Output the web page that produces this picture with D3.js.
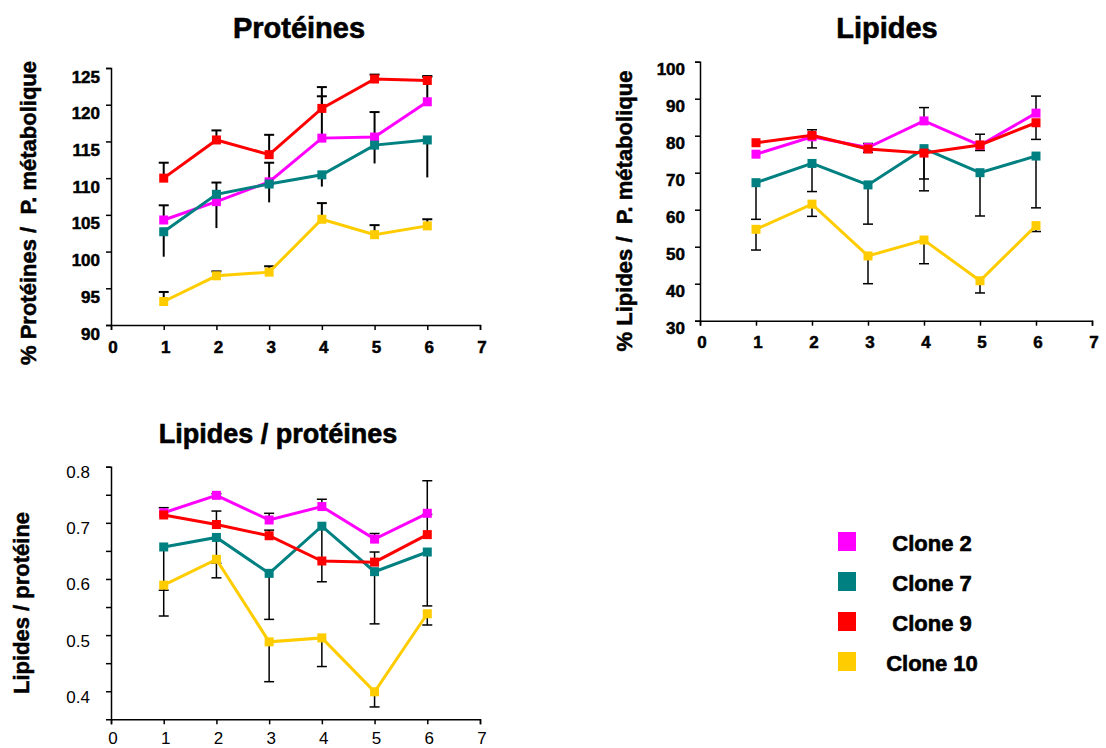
<!DOCTYPE html>
<html>
<head>
<meta charset="utf-8">
<script src="https://d3js.org/d3.v7.min.js"></script>
<style>
  body { margin: 0; background: #fff; }
  svg { font-family: "Liberation Sans", Arial, sans-serif; }
</style>
</head>
<body>
<div id="chart"></div>
<script>
// data (x = 1..6, one row per clone)
const days = [1, 2, 3, 4, 5, 6];
const xTicks = [0, 1, 2, 3, 4, 5, 6, 7];
const clones = ["Clone 2", "Clone 7", "Clone 9", "Clone 10"];
const cloneColors = ["#ff00ff", "#008080", "#ff0000", "#ffcc00"];

// signed error: positive = bar drawn upward, negative = downward
const protMean = [
  [104.3, 106.8, 109.5, 115.45, 115.6, 120.4],
  [102.7, 107.8, 109.2, 110.45, 114.5, 115.2],
  [110.0, 115.2, 113.2, 119.5, 123.5, 123.3],
  [93.2, 96.7, 97.2, 104.4, 102.3, 103.5]
];
const protErr = [
  [2.0, 2.6, 2.6, 5.7, 3.4, 3.4],
  [-3.4, -4.6, -2.5, -1.6, -2.5, -5.1],
  [2.1, 1.3, 2.7, 2.9, 0.6, 0.6],
  [1.3, 0.6, 0.8, 2.2, 1.3, 0.9]
];
const protTicks = [90, 95, 100, 105, 110, 115, 120, 125];

const lipMean = [
  [75.0, 79.7, 76.8, 84.0, 77.4, 86.1],
  [67.3, 72.5, 66.7, 76.5, 70.0, 74.5],
  [78.1, 80.1, 76.4, 75.3, 77.5, 83.5],
  [54.7, 61.5, 47.5, 51.8, 40.8, 55.7]
];
const lipErr = [
  [0, 1.9, 1.1, 3.6, 3.0, 4.6],
  [-9.9, -7.6, -10.6, -11.4, -11.7, -14.0],
  [0, -3.4, -0.9, -7.0, -1.5, -4.5],
  [-5.6, -3.3, -7.5, -6.4, -3.3, -1.6]
];
const lipTicks = [30, 40, 50, 60, 70, 80, 90, 100];

const ratioMean = [
  [0.718, 0.749, 0.705, 0.729, 0.671, 0.717],
  [0.657, 0.674, 0.610, 0.694, 0.613, 0.648],
  [0.714, 0.697, 0.677, 0.632, 0.630, 0.679],
  [0.589, 0.635, 0.488, 0.495, 0.399, 0.538]
];
const ratioErr = [
  [0.009, 0.003, 0.012, 0.013, 0.010, 0.058],
  [-0.077, -0.072, -0.082, -0.099, -0.093, -0.096],
  [0, 0.024, 0.010, 0, 0.018, 0.036],
  [-0.055, -0.007, -0.071, -0.051, -0.027, -0.020]
];
const ratioTicks = [0.4, 0.5, 0.6, 0.7, 0.8];
const ratioMarks = [0.4, 0.45, 0.5, 0.55, 0.6, 0.65, 0.7, 0.75, 0.8];

var svg = d3.select("#chart").append("svg")
  .attr("width", 1106)
  .attr("height", 748);

// bold text in the reference is heavy, a thin outline thickens it
function heavy(sel, sw) {
  return sel.style("font-weight", "bold").attr("stroke", "#000").attr("stroke-width", sw);
}

function drawPanel(p) {
  var x = d3.scaleLinear().domain([0, 7]).range([p.left, p.right]);
  var y = d3.scaleLinear().domain(p.yDomain).range([p.bottom, p.top]);
  var g = svg.append("g");

  // title
  heavy(g.append("text")
    .attr("x", p.titleX).attr("y", p.titleY)
    .attr("text-anchor", "middle")
    .attr("dominant-baseline", "central")
    .style("font-size", p.titleSize + "px")
    .text(p.title), 0.6);

  // y axis title
  heavy(g.append("text")
    .attr("transform", "translate(" + p.yTitleX + "," + p.yTitleY + ") rotate(-90)")
    .attr("text-anchor", "middle")
    .attr("dominant-baseline", "central")
    .style("font-size", "22px")
    .style("white-space", "pre")
    .text(p.yTitle), 0.5);

  // axes
  var yAxis = d3.axisLeft(y).tickValues(p.marks).tickSize(5).tickFormat("");
  var gy = g.append("g").attr("transform", "translate(" + p.left + ",0)").call(yAxis);
  var xAxis = d3.axisBottom(x).tickValues(xTicks).tickSize(5).tickFormat("");
  var gx = g.append("g").attr("transform", "translate(0," + p.bottom + ")").call(xAxis);
  [gx, gy].forEach(function(a) {
    a.select(".domain").attr("stroke", "#000").attr("stroke-width", 1.5);
    a.selectAll(".tick line").attr("stroke", "#000").attr("stroke-width", 1.5);
  });

  var yl = g.selectAll(".ylab").data(p.ticks).enter().append("text")
    .attr("x", p.left - p.labelGap)
    .attr("y", function(d) { return y(d) + p.labelShift; })
    .attr("text-anchor", "end")
    .attr("dominant-baseline", "central")
    .style("font-size", "17px")
    .text(function(d) { return p.fmt(d); });

  var xl = g.selectAll(".xlab").data(xTicks).enter().append("text")
    .attr("x", function(d) { return x(d) + 2; })
    .attr("y", p.bottom + p.xLabelDy)
    .attr("text-anchor", "middle")
    .attr("dominant-baseline", "central")
    .style("font-size", "17px")
    .text(function(d) { return d; });

  if (p.bold) { heavy(yl, 0.5); heavy(xl, 0.5); }

  // error bars
  p.mean.forEach(function(row, i) {
    days.forEach(function(d, j) {
      var e = p.err[i][j];
      if (!e) return;
      var y0 = y(row[j]), y1 = y(row[j] + e);
      g.append("line")
        .attr("x1", x(d)).attr("x2", x(d)).attr("y1", y0).attr("y2", y1)
        .attr("stroke", "#000").attr("stroke-width", p.errW);
      if (p.caps[i]) {
        g.append("line")
          .attr("x1", x(d) - 5).attr("x2", x(d) + 5).attr("y1", y1).attr("y2", y1)
          .attr("stroke", "#000").attr("stroke-width", p.errW);
      }
    });
  });

  // lines and markers
  var line = d3.line().x(function(d) { return x(d[0]); }).y(function(d) { return y(d[1]); });
  p.mean.forEach(function(row, i) {
    var pts = days.map(function(d, j) { return [d, row[j]]; });
    g.append("path").attr("d", line(pts))
      .attr("fill", "none").attr("stroke", cloneColors[i]).attr("stroke-width", 3);
    g.selectAll(".m" + i).data(pts).enter().append("rect")
      .attr("x", function(d) { return x(d[0]) - 4.5; })
      .attr("y", function(d) { return y(d[1]) - 4.5; })
      .attr("width", 9).attr("height", 9)
      .attr("fill", cloneColors[i]);
  });
}

drawPanel({
  title: "Protéines", titleX: 299, titleY: 28, titleSize: 29,
  yTitle: "% Protéines /  P. métabolique", yTitleX: 28, yTitleY: 213,
  left: 111, right: 480, top: 68, bottom: 325,
  yDomain: [90, 125], ticks: protTicks, marks: protTicks,
  mean: protMean, err: protErr, caps: [true, false, true, true],
  fmt: function(d) { return d; }, bold: true, labelGap: 11, labelShift: 9, xLabelDy: 22, errW: 2
});

drawPanel({
  title: "Lipides", titleX: 887, titleY: 28, titleSize: 29,
  yTitle: "% Lipides /  P. métabolique", yTitleX: 624, yTitleY: 211,
  left: 700, right: 1092, top: 61.7, bottom: 320.7,
  yDomain: [30, 100], ticks: lipTicks, marks: lipTicks,
  mean: lipMean, err: lipErr, caps: [true, true, true, true],
  fmt: function(d) { return d; }, bold: true, labelGap: 15, labelShift: 8, xLabelDy: 22, errW: 1.5
});

drawPanel({
  title: "Lipides / protéines", titleX: 278, titleY: 434, titleSize: 27,
  yTitle: "Lipides / protéine", yTitleX: 21, yTitleY: 603,
  left: 111, right: 480, top: 466.7, bottom: 719.3,
  yDomain: [0.35, 0.8], ticks: ratioTicks, marks: ratioMarks,
  mean: ratioMean, err: ratioErr, caps: [true, true, true, true],
  fmt: d3.format(".1f"), bold: false, labelGap: 21, labelShift: 6, xLabelDy: 19, errW: 1.5
});

// legend
var leg = svg.append("g").selectAll("g").data(clones).enter().append("g")
  .attr("transform", function(d, i) { return "translate(0," + (i * 40) + ")"; });
leg.append("rect")
  .attr("x", 838).attr("y", 532).attr("width", 18).attr("height", 19)
  .attr("fill", function(d, i) { return cloneColors[i]; });
heavy(leg.append("text")
  .attr("x", 932).attr("y", 543)
  .attr("text-anchor", "middle")
  .attr("dominant-baseline", "central")
  .style("font-size", "22px")
  .text(function(d) { return d; }), 0.6);
</script>
</body>
</html>
